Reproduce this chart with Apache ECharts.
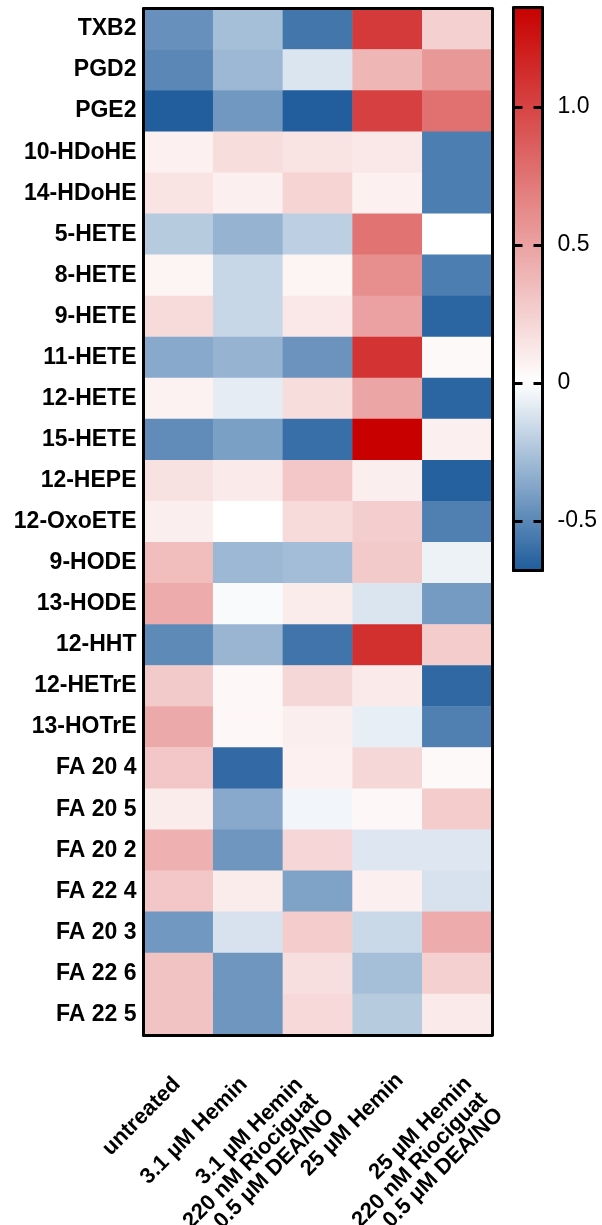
<!DOCTYPE html>
<html>
<head>
<meta charset="utf-8">
<title>Lipid mediators heatmap</title>
<script src="https://cdn.jsdelivr.net/npm/echarts@6/dist/echarts.min.js"></script>
<style>
  html, body { margin: 0; padding: 0; background: #fff; }
  #chart { width: 602px; height: 1225px; }
</style>
</head>
<body>
<div id="chart"></div>
<script>
// treatment groups (columns)
const groups = [
  'untreated',
  '3.1 µM Hemin',
  '3.1 µM Hemin\n220 nM Riociguat\n0.5 µM DEA/NO',
  '25 µM Hemin',
  '25 µM Hemin\n220 nM Riociguat\n0.5 µM DEA/NO'
];

// lipid mediators (rows, top to bottom)
const lipids = [
  'TXB2', 'PGD2', 'PGE2', '10-HDoHE', '14-HDoHE', '5-HETE', '8-HETE', '9-HETE',
  '11-HETE', '12-HETE', '15-HETE', '12-HEPE', '12-OxoETE', '9-HODE', '13-HODE',
  '12-HHT', '12-HETrE', '13-HOTrE', 'FA 20 4', 'FA 20 5', 'FA 20 2', 'FA 22 4',
  'FA 20 3', 'FA 22 6', 'FA 22 5'
];

// one array per group, same order as lipids
const untreated = [
  -0.46, -0.50, -0.67, 0.08, 0.15, -0.22, 0.06, 0.19, -0.36, 0.07, -0.48, 0.16,
  0.09, 0.35, 0.45, -0.49, 0.28, 0.46, 0.30, 0.10, 0.42, 0.30, -0.43, 0.32, 0.32
];
const hemin3 = [
  -0.27, -0.30, -0.43, 0.18, 0.085, -0.32, -0.17, -0.17, -0.32, -0.08, -0.40, 0.11,
  0.0, -0.30, -0.02, -0.31, 0.04, 0.04, -0.62, -0.36, -0.44, 0.10, -0.12, -0.44, -0.44
];
const hemin3Rio = [
  -0.57, -0.11, -0.67, 0.15, 0.23, -0.20, 0.06, 0.13, -0.45, 0.18, -0.60, 0.30,
  0.19, -0.28, 0.10, -0.58, 0.21, 0.09, 0.08, -0.04, 0.22, -0.39, 0.27, 0.17, 0.20
];
const hemin25 = [
  1.05, 0.39, 1.02, 0.13, 0.08, 0.75, 0.60, 0.50, 1.09, 0.48, 1.36, 0.09,
  0.26, 0.28, -0.11, 1.11, 0.11, -0.07, 0.21, 0.04, -0.10, 0.085, -0.16, -0.27, -0.22
];
const hemin25Rio = [
  0.25, 0.55, 0.76, -0.54, -0.54, 0.0, -0.54, -0.64, 0.03, -0.64, 0.085, -0.66,
  -0.53, -0.055, -0.42, 0.27, -0.63, -0.53, 0.03, 0.27, -0.10, -0.12, 0.45, 0.25, 0.11
];

// colour bar
const scaleMin = -0.68;
const scaleMax = 1.36;
const barTicks = [-0.5, 0, 0.5, 1.0];
const barTickLabels = ['-0.5', '0', '0.5', '1.0'];

const columns = [untreated, hemin3, hemin3Rio, hemin25, hemin25Rio];
const cells = [];
columns.forEach((col, x) => {
  col.forEach((v, y) => cells.push([x, y, v]));
});

const font = 'Liberation Sans, Arial, Helvetica, sans-serif';

// layout (pixels)
const hm = { left: 143.5, top: 8.5, width: 348.5, height: 1026.5 };
const cb = { left: 513.5, top: 7.5, width: 29, height: 563 };
// where the end of each rotated group label sits, as in the original figure
const labelEnds = [[177, 1081], [244, 1081], [315, 1097], [400, 1077], [484, 1096]];

const chart = echarts.init(document.getElementById('chart'), null, { renderer: 'canvas' });

const edge = { show: true, onZero: false, lineStyle: { color: '#000', width: 3 } };
const off = { show: false };
const tick = { show: true, inside: true, length: 9, customValues: barTicks,
  lineStyle: { color: '#000', width: 3 } };

// one label-only axis per group so each label can be placed like the figure
const hmBottom = hm.top + hm.height;
const labelAxes = groups.map((g, k) => ({
  type: 'value', gridIndex: 0, position: 'bottom', min: 0, max: groups.length,
  offset: labelEnds[k][1] - hmBottom,
  axisLine: off, axisTick: off, splitLine: off,
  axisLabel: {
    show: true, rotate: 45, margin: 0, hideOverlap: false,
    customValues: [(labelEnds[k][0] - hm.left) / hm.width * groups.length],
    formatter: () => g,
    color: '#000', fontFamily: font, fontWeight: 'bold', fontSize: 22, lineHeight: 22
  }
}));

chart.setOption({
  animation: false,
  backgroundColor: '#fff',
  grid: [
    { left: hm.left, top: hm.top, width: hm.width, height: hm.height, outerBoundsMode: 'none' },
    { left: cb.left, top: cb.top, width: cb.width, height: cb.height, outerBoundsMode: 'none' }
  ],
  xAxis: [
    { type: 'category', data: groups, gridIndex: 0, position: 'bottom', z: 10,
      axisLine: edge, axisTick: off, axisLabel: off, splitLine: off },
    { type: 'category', data: groups, gridIndex: 0, position: 'top', z: 10,
      axisLine: edge, axisTick: off, axisLabel: off, splitLine: off },
    { type: 'value', gridIndex: 1, position: 'bottom', min: 0, max: 1, z: 10,
      axisLine: edge, axisTick: off, axisLabel: off, splitLine: off },
    { type: 'value', gridIndex: 1, position: 'top', min: 0, max: 1, z: 10,
      axisLine: edge, axisTick: off, axisLabel: off, splitLine: off }
  ].concat(labelAxes),
  yAxis: [
    {
      type: 'category', data: lipids, inverse: true, gridIndex: 0, position: 'left', z: 10,
      axisLine: edge, axisTick: off, splitLine: off,
      axisLabel: {
        margin: 7, interval: 0, color: '#000',
        fontFamily: font, fontWeight: 'bold', fontSize: 23
      }
    },
    { type: 'category', data: lipids, inverse: true, gridIndex: 0, position: 'right', z: 10,
      axisLine: edge, axisTick: off, axisLabel: off, splitLine: off },
    {
      type: 'value', gridIndex: 1, position: 'left', min: scaleMin, max: scaleMax, z: 10,
      axisLine: edge, splitLine: off, axisLabel: off, axisTick: tick
    },
    {
      type: 'value', gridIndex: 1, position: 'right', min: scaleMin, max: scaleMax, z: 10,
      axisLine: edge, splitLine: off, axisTick: tick,
      axisLabel: {
        show: true, margin: 15, customValues: barTicks, color: '#000',
        fontFamily: font, fontSize: 23,
        formatter: (v) => barTickLabels[barTicks.findIndex(t => Math.abs(t - v) < 1e-6)]
      }
    }
  ],
  visualMap: {
    type: 'continuous',
    min: scaleMin,
    max: scaleMax,
    dimension: 2,
    seriesIndex: 0,
    calculable: false,
    orient: 'vertical',
    left: cb.left,
    top: cb.top,
    padding: 0,
    itemWidth: cb.width,
    itemHeight: cb.height,
    text: null,
    showLabel: false,
    inRange: {
      color: ['#1f5c9c', '#8faece', '#ffffff', '#f1bfbf', '#e48080', '#d64040', '#c80000']
    }
  },
  series: [{
    type: 'heatmap',
    xAxisIndex: 0,
    yAxisIndex: 0,
    data: cells,
    itemStyle: { borderWidth: 0 },
    emphasis: { disabled: true }
  }]
});
</script>
</body>
</html>
